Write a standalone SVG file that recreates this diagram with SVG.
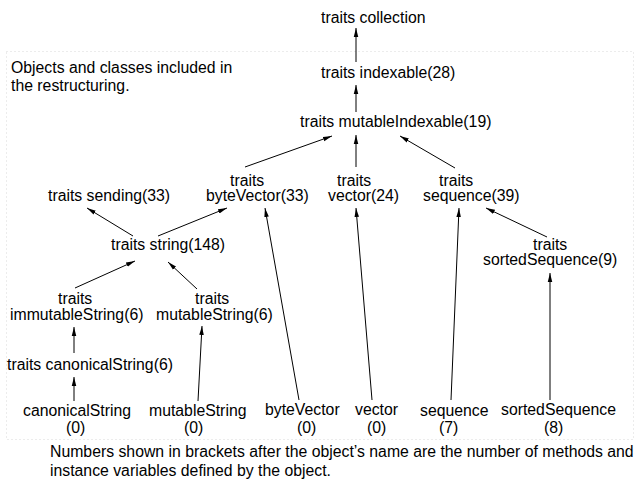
<svg xmlns="http://www.w3.org/2000/svg" width="642" height="482" viewBox="0 0 642 482">
  <style>
    text { font-family: "Liberation Sans", Arial, sans-serif; font-size: 15.8px; fill: #000; }
    .conn line { stroke: #000; stroke-width: 1; marker-end: url(#arrow); }
    .frame { fill: none; stroke: #d8d8d8; stroke-width: 1; stroke-dasharray: 1 3; }
  </style>
  <defs>
    <marker id="arrow" viewBox="0 0 10 6" refX="10" refY="3" markerWidth="9" markerHeight="5.4" markerUnits="userSpaceOnUse" orient="auto">
      <path d="M0,0.5 L10,3 L0,5.5 Z" fill="#000"/>
    </marker>
  </defs>
  <rect width="642" height="482" fill="#fff"/>

  <!-- region of restructured objects -->
  <rect class="frame" x="6.5" y="51.5" width="627" height="388"/>
  <g id="note">
    <text x="11" y="73">Objects and classes included in</text>
    <text x="11" y="91">the restructuring.</text>
  </g>

  <!-- inheritance links, child to parent -->
  <g id="connectors" class="conn">
    <line x1="356" y1="62" x2="356" y2="28"/>
    <line x1="356" y1="112" x2="356" y2="85"/>
    <line x1="245" y1="167" x2="332" y2="136"/>
    <line x1="356" y1="167" x2="356" y2="135"/>
    <line x1="455" y1="168" x2="400" y2="136"/>
    <line x1="133" y1="236" x2="87" y2="208"/>
    <line x1="158" y1="236" x2="227" y2="208"/>
    <line x1="547" y1="237" x2="486" y2="208"/>
    <line x1="75" y1="288" x2="135" y2="261"/>
    <line x1="197" y1="289" x2="168" y2="262"/>
    <line x1="74" y1="353" x2="74" y2="327"/>
    <line x1="74" y1="401" x2="74" y2="377"/>
    <line x1="198" y1="401" x2="202" y2="326"/>
    <line x1="299" y1="400" x2="265" y2="208"/>
    <line x1="372" y1="400" x2="356" y2="208"/>
    <line x1="451" y1="400" x2="459" y2="208"/>
    <line x1="550" y1="400" x2="550" y2="273"/>
  </g>

  <g id="traits-collection"><text x="321" y="23">traits collection</text></g>
  <g id="traits-indexable"><text x="321" y="78">traits indexable(28)</text></g>
  <g id="traits-mutableIndexable"><text x="300" y="127">traits mutableIndexable(19)</text></g>

  <g id="traits-byteVector">
    <text x="230" y="185.5">traits</text>
    <text x="206" y="201">byteVector(33)</text>
  </g>
  <g id="traits-vector">
    <text x="337" y="185.5">traits</text>
    <text x="328" y="201">vector(24)</text>
  </g>
  <g id="traits-sequence">
    <text x="439" y="185.5">traits</text>
    <text x="423" y="201">sequence(39)</text>
  </g>
  <g id="traits-sending"><text x="48" y="201">traits sending(33)</text></g>
  <g id="traits-string"><text x="111" y="250">traits string(148)</text></g>
  <g id="traits-sortedSequence">
    <text x="533" y="249.5">traits</text>
    <text x="483" y="265">sortedSequence(9)</text>
  </g>
  <g id="traits-immutableString">
    <text x="58" y="303.5">traits</text>
    <text x="10" y="320">immutableString(6)</text>
  </g>
  <g id="traits-mutableString">
    <text x="195" y="303.5">traits</text>
    <text x="156" y="320">mutableString(6)</text>
  </g>
  <g id="traits-canonicalString"><text x="7" y="370">traits canonicalString(6)</text></g>

  <g id="canonicalString">
    <text x="23" y="416">canonicalString</text>
    <text x="66" y="433">(0)</text>
  </g>
  <g id="mutableString">
    <text x="149" y="416">mutableString</text>
    <text x="184" y="433">(0)</text>
  </g>
  <g id="byteVector">
    <text x="265" y="415">byteVector</text>
    <text x="297" y="433">(0)</text>
  </g>
  <g id="vector">
    <text x="355" y="415">vector</text>
    <text x="367" y="433">(0)</text>
  </g>
  <g id="sequence">
    <text x="420" y="416">sequence</text>
    <text x="439" y="433">(7)</text>
  </g>
  <g id="sortedSequence">
    <text x="501" y="415">sortedSequence</text>
    <text x="544" y="433">(8)</text>
  </g>

  <g id="caption">
    <text x="50" y="457">Numbers shown in brackets after the object’s name are the number of methods and</text>
    <text x="50" y="476">instance variables defined by the object.</text>
  </g>
</svg>
